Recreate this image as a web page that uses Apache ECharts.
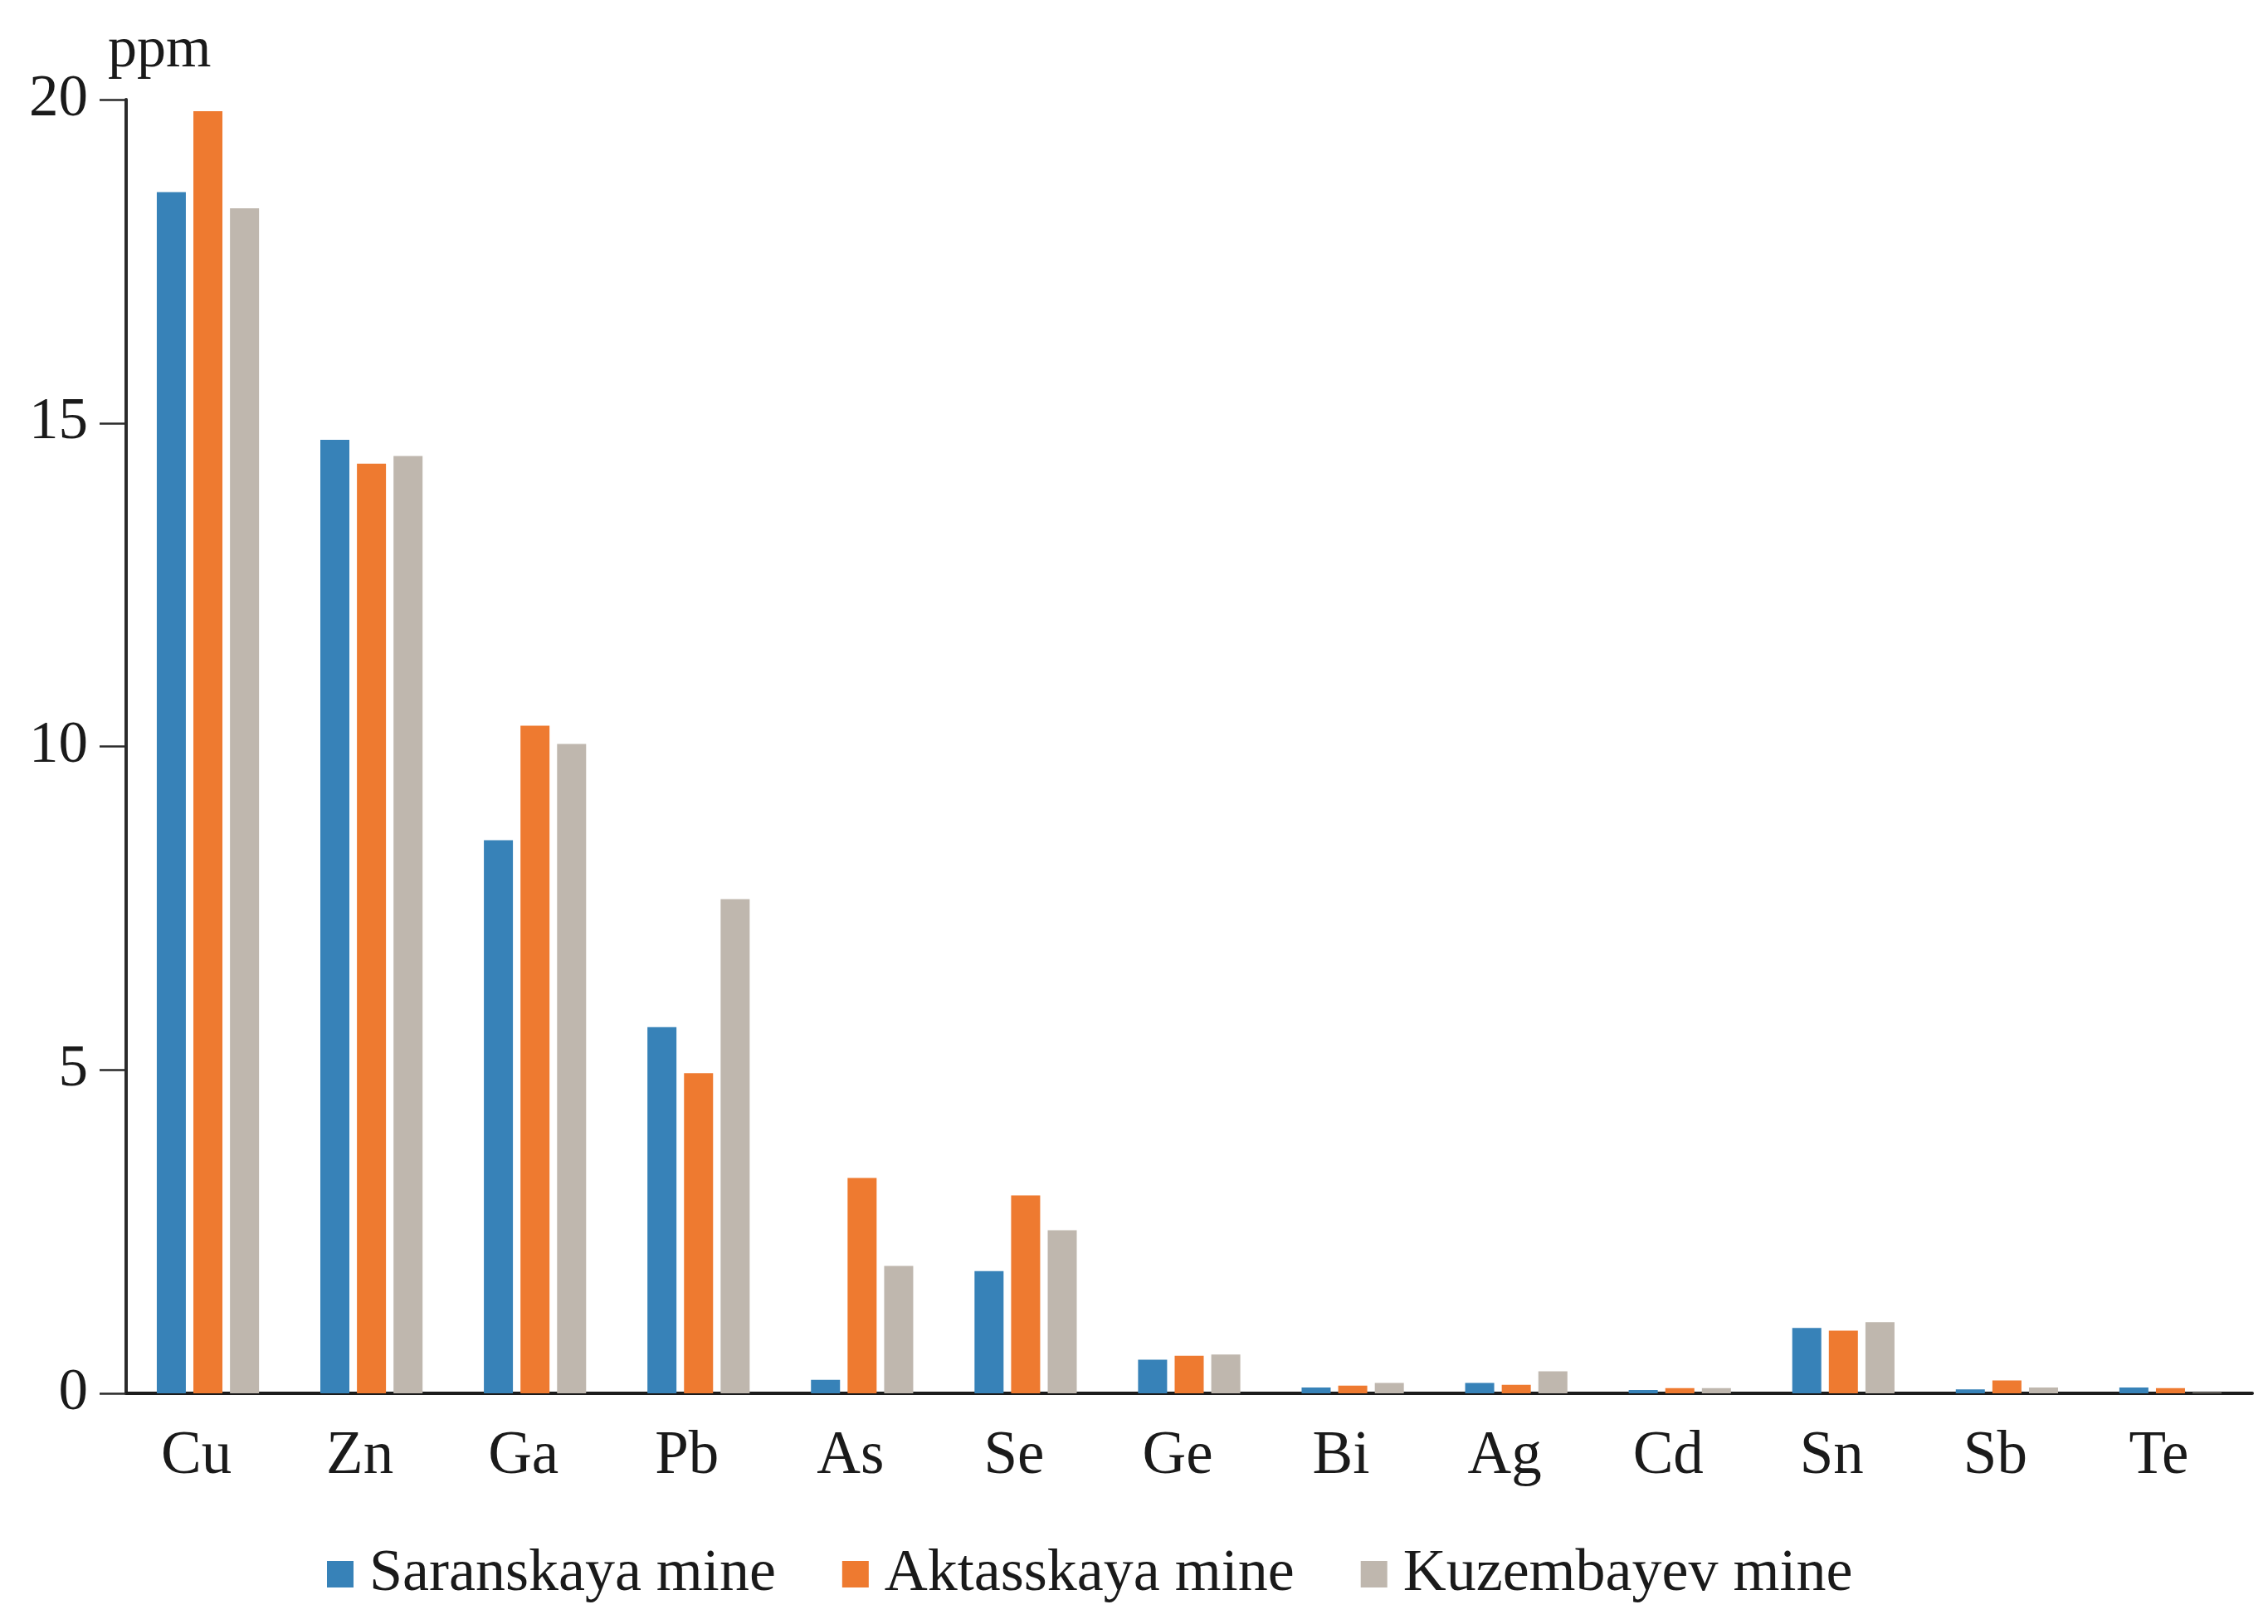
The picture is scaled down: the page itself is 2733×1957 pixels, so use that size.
<!DOCTYPE html>
<html>
<head>
<meta charset="utf-8">
<script src="https://cdn.jsdelivr.net/npm/echarts@6/dist/echarts.min.js"></script>
<style>
html,body{margin:0;padding:0;background:#fff;}
#chart{width:2733px;height:1957px;}
</style>
</head>
<body>
<div id="chart"></div>
<script>
const categories = ['Cu','Zn','Ga','Pb','As','Se','Ge','Bi','Ag','Cd','Sn','Sb','Te'];
const saranskaya = [18.57, 14.74, 8.55, 5.66, 0.21, 1.89, 0.52, 0.09, 0.16, 0.05, 1.01, 0.06, 0.09];
const aktasskaya = [19.82, 14.37, 10.32, 4.95, 3.33, 3.06, 0.58, 0.12, 0.13, 0.08, 0.97, 0.20, 0.08];
const kuzembayev = [18.32, 14.49, 10.04, 7.64, 1.97, 2.52, 0.60, 0.16, 0.34, 0.08, 1.10, 0.09, 0.01];
const seriesNames = ['Saranskaya mine', 'Aktasskaya mine', 'Kuzembayev mine'];
const yTicks = [0, 5, 10, 15, 20];
const unitLabel = 'ppm';

const FONT = "'Liberation Serif', 'Times New Roman', serif";
const colors = ['#3782B8', '#EE7A30', '#BFB7AE'];

const chart = echarts.init(document.getElementById('chart'), null, {renderer: 'canvas'});
const mk = (name, data, i) => ({
  name: name,
  type: 'bar',
  data: data,
  barWidth: 35,
  barGap: '26%',
  itemStyle: {color: colors[i]}
});
chart.setOption({
  backgroundColor: '#ffffff',
  animation: false,
  color: colors,
  title: {
    text: unitLabel,
    left: 125,
    top: 22,
    textStyle: {fontFamily: FONT, fontSize: 70, fontWeight: 'normal', color: '#1a1a1a'}
  },
  grid: {left: 152, right: 19, top: 120, bottom: 278, containLabel: false},
  legend: {
    data: seriesNames,
    left: 389,
    top: 1856,
    itemWidth: 32,
    itemHeight: 32,
    itemGap: 80,
    icon: 'rect',
    textStyle: {fontFamily: FONT, fontSize: 72, color: '#1a1a1a', padding: [0, 0, 0, 14]}
  },
  xAxis: {
    type: 'category',
    data: categories,
    axisLine: {show: true, lineStyle: {color: '#1c1c1c', width: 4}},
    axisTick: {show: false},
    axisLabel: {fontFamily: FONT, fontSize: 73, color: '#1a1a1a', margin: 40, padding: [0, 28, 0, 0]},
    splitLine: {show: false}
  },
  yAxis: {
    type: 'value',
    min: yTicks[0],
    max: yTicks[yTicks.length - 1],
    interval: 5,
    axisLine: {show: true, lineStyle: {color: '#2a2a2a', width: 4}},
    axisTick: {show: true, length: 32, lineStyle: {color: '#2a2a2a', width: 2.5}},
    axisLabel: {fontFamily: FONT, fontSize: 71, color: '#1a1a1a', margin: 46},
    splitLine: {show: false}
  },
  series: [
    mk(seriesNames[0], saranskaya, 0),
    mk(seriesNames[1], aktasskaya, 1),
    mk(seriesNames[2], kuzembayev, 2)
  ]
});
</script>
</body>
</html>
